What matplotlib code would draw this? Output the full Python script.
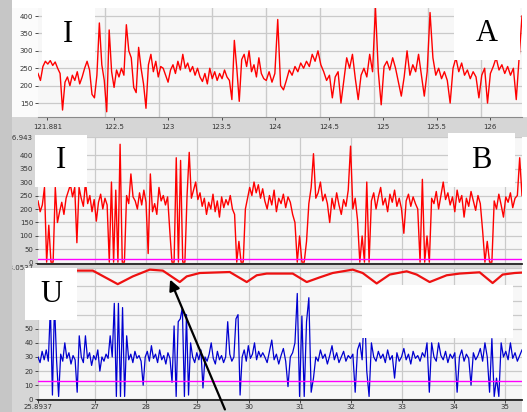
import matplotlib.pyplot as plt
import numpy as np
from matplotlib.patches import Rectangle, FancyArrowPatch

W, H = 527, 412

# panel A: current I, time 121.88 .. 126.38
a_vals_1 = [235, 215, 255, 270, 262, 272, 258, 268, 250, 235, 130,
            210, 225, 200, 230, 215, 240, 205, 225, 250, 270, 245, 175, 165,
            230, 380, 260, 215, 125, 360, 240, 195, 245, 225, 250, 230, 375,
            300, 280, 195, 180, 310, 250, 205, 135, 260, 290, 240, 270, 225,
            255, 250, 230, 210, 245, 260, 235, 270, 245, 290, 250, 265, 240,
            255, 230, 250, 225, 212, 235, 205, 250, 220, 240, 215, 235, 220,
            245, 225, 215, 160, 330, 250, 155, 275, 290, 255, 300, 240, 260,
            225, 280, 235, 220]
a_vals_2 = [215, 240, 210, 235, 390, 200, 188, 215, 245, 230, 255, 240,
            265, 250, 270, 255, 290, 270, 300, 260, 240, 215, 230, 165, 225,
            240, 150, 215, 280, 250, 290, 220, 160, 230, 250, 225, 290, 240,
            425, 240, 145, 255, 270, 245, 280, 250, 210, 170, 225, 300, 230,
            260, 240, 290, 230, 170, 240, 410, 280, 230, 250, 220, 240, 215,
            150, 250, 280, 240, 265, 230, 245, 220, 240, 225, 165, 230, 250,
            150, 235, 255, 280, 245, 260, 235, 255, 230, 250, 160, 280, 400]

# panel B: current I, time 25.89 .. 35.33
b_vals_1 = [230, 190, 215, 280, 3, 140, 3, 3, 280, 150, 190, 225, 180,
            240, 265, 290, 245, 280, 75, 280, 240, 210, 300, 220, 250, 190,
            235, 155, 225, 255, 200, 240, 215, 3, 300, 3, 270, 3, 440, 3, 3,
            250, 220, 330, 245, 230, 200, 260, 215, 270, 225, 35, 330, 190,
            220, 180, 280, 230, 250, 215, 245, 120, 3, 3, 390, 3, 380, 3, 3,
            250, 410, 240, 270, 300, 235, 260, 210, 240, 180, 225, 200, 255,
            190, 230, 170, 245, 205, 235, 215, 250, 200, 180, 3, 80, 3, 3,
            200, 240, 280, 250, 300, 260, 290, 240, 275]
b_vals_2 = [230, 200, 250, 215, 270, 190, 240, 220, 255, 205, 245, 225,
            180, 150, 3, 100, 3, 3, 80, 220, 280, 405, 240, 260, 300, 230,
            255, 220, 150, 240, 200, 260, 215, 180, 235, 210, 270, 433, 200,
            240, 160, 3, 100, 3, 300, 3, 230, 260, 200, 245, 280, 215, 240,
            190, 255, 225, 270, 210, 240, 200, 110, 230, 255, 210, 245, 220,
            200, 3, 310, 3, 100, 3, 240, 220, 265, 200, 250, 300, 235, 260,
            215, 245, 190, 270, 225, 250, 170, 240, 210, 265, 230, 195, 250,
            220, 120, 3, 80, 3, 3, 230, 200, 255, 215, 170, 245, 225, 260,
            205, 240, 250, 390, 250]
b_limit = 14

# panel U: voltage, time 25.89 .. 35.33
u_vals_1 = [30, 26, 34, 28, 35, 27, 65, 3, 68, 28, 2, 32, 27, 40, 29, 33,
            25, 31, 28, 5, 45, 30, 26, 45, 29, 33, 24, 31, 28, 35, 20, 30,
            27, 32, 29, 45, 30, 68, 2, 68, 2, 65, 2, 45, 28, 32, 26, 34, 29,
            31, 27, 10, 30, 34, 27, 38, 29, 32, 26, 35, 28, 31, 25, 33, 29,
            12, 52, 2, 55, 57, 65, 2, 60, 3, 40, 30, 26, 33, 28, 35, 8, 30,
            27, 32, 40, 29, 25, 34, 28, 31, 26, 30, 55, 32, 27, 30, 57, 60,
            3, 30, 35, 27, 38, 29, 32, 40, 28, 34, 30, 33]
u_vals_2 = [30, 26, 34, 42, 28, 32, 25, 31, 36, 27, 9, 30, 33, 40, 75, 2,
            59, 2, 55, 72, 5, 15, 30, 27, 35, 29, 32, 25, 31, 38, 28, 33, 26,
            30, 34, 27, 31, 29, 32, 5, 35, 40, 28, 66, 20, 2, 40, 30, 27, 34,
            29, 32, 26, 35, 28, 31, 15, 33, 27, 30, 36, 28, 32, 25, 34, 29,
            31, 27, 33, 30, 40, 5, 40, 30, 27, 40, 31, 28, 34, 26, 32, 29, 33,
            5, 30, 35, 27, 32, 29, 10, 33, 28, 31, 36, 27, 40, 30, 5, 43, 2,
            15, 2, 40, 30, 34, 28, 40, 29, 33, 27, 31, 35]
u_limit = 13
red_t = [25.89, 26.645, 26.962, 27.449, 27.742, 28.073, 28.327, 28.658,
         28.794, 29.048, 29.633, 29.964, 30.159, 30.354, 30.861, 31.134,
         31.387, 31.640, 32.030, 32.225, 32.498, 32.752, 33.083, 33.278,
         33.531, 33.863, 34.116, 34.506, 34.759, 34.954, 35.188, 35.33]
red_v = [91.2, 91.2, 91.2, 81.6, 87.1, 91.9, 91.2, 83.1, 87.1, 89.5, 90.2,
         83.1, 87.9, 89.1, 89.1, 83.1, 86.4, 89.5, 91.9, 89.5, 82.1, 88.4,
         90.7, 88.4, 83.1, 87.9, 89.1, 90.0, 82.4, 88.4, 89.5, 89.8]

a_ticks = [122.5, 123, 123.5, 124, 124.5, 125, 125.5, 126]
u_ticks = [27, 28, 29, 30, 31, 32, 33, 34, 35]

BG = '#d6d6d6'
PLOT_BG = '#f7f7f7'
GRID = '#cacaca'


def fbox(x0, y0, x1, y1):
    return [x0 / W, 1 - y1 / H, (x1 - x0) / W, (y1 - y0) / H]


def rect(fig, x0, y0, x1, y1, color, z):
    r = Rectangle((x0 / W, 1 - y1 / H), (x1 - x0) / W, (y1 - y0) / H,
                  transform=fig.transFigure, facecolor=color,
                  edgecolor='none', zorder=z)
    fig.add_artist(r)


def style(ax):
    ax.set_facecolor(PLOT_BG)
    for s in ax.spines.values():
        s.set_visible(False)
    ax.set_axisbelow(True)
    ax.tick_params(labelsize=5, length=2.5, width=0.6, colors='#333333',
                   pad=1)


fig = plt.figure(figsize=(W / 100, H / 100), dpi=100, facecolor=BG)
rect(fig, 0, 0, W, 8, 'white', -1)
rect(fig, 12, 8, 38, 117, '#fbfbfb', -1)
rect(fig, 522, 8, W, 117, 'white', -1)
rect(fig, 522, 137, W, H, 'white', -1)

# ---- A ----
axA = fig.add_axes(fbox(38, 8, 522, 117))
style(axA)
a_t1 = np.linspace(121.877, 124.0, len(a_vals_1), endpoint=False)
a_t2 = np.linspace(124.0, 126.379, len(a_vals_2))
axA.plot(np.r_[a_t1, a_t2], a_vals_1 + a_vals_2, color='#ff0000', lw=1.0)
axA.set_xlim(121.877, 126.379)
axA.set_ylim(110, 423)
axA.set_yticks(range(150, 401, 50))
axA.grid(axis='y', color=GRID, lw=0.9)
for g in a_ticks:
    axA.axvline(g, color=GRID, lw=1.0, zorder=0)
# axis labels sit a little right of the grid in the original
axA.set_xticks([v + 0.084 for v in [121.881] + a_ticks])
axA.set_xticklabels(['121.881'] + [f'{v:g}' for v in a_ticks])
axA.tick_params(axis='x', pad=2.5, length=2.5)
axA.spines['bottom'].set_visible(True)
axA.spines['bottom'].set_color('#8a8a8a')

# ---- B ----
axB = fig.add_axes(fbox(38, 137, 522, 263.5))
style(axB)
b_t1 = np.linspace(25.8937, 30.317, len(b_vals_1), endpoint=False)
b_t2 = np.linspace(30.317, 35.332, len(b_vals_2))
axB.plot(np.r_[b_t1, b_t2], b_vals_1 + b_vals_2, color='#ff0000', lw=1.0)
axB.axhline(b_limit, color='#ff00ff', lw=1.0)
axB.set_xlim(25.8937, 35.332)
axB.set_ylim(-2, 466.943)
axB.set_yticks(list(range(0, 401, 50)) + [466.943])
axB.set_yticklabels([str(v) for v in range(0, 401, 50)] + ['466.943'])
axB.set_xticks(u_ticks)
axB.tick_params(axis='x', length=0, labelbottom=False)
axB.grid(color=GRID, lw=0.9)
axB.spines['bottom'].set_visible(True)
axB.spines['bottom'].set_color('#222222')
axB.spines['bottom'].set_linewidth(1.3)

# ---- U ----
axU = fig.add_axes(fbox(38, 268, 522, 400))
style(axU)
u_t1 = np.linspace(25.8937, 30.317, len(u_vals_1), endpoint=False)
u_t2 = np.linspace(30.317, 35.332, len(u_vals_2))
axU.plot(np.r_[u_t1, u_t2], u_vals_1 + u_vals_2, color='#0000d0', lw=0.9)
axU.axhline(u_limit, color='#ff00ff', lw=1.0)
axU.plot(red_t, red_v, color='#ee1111', lw=1.6)
axU.set_xlim(25.8937, 35.332)
axU.set_ylim(-0.5, 93.05)
axU.set_yticks(list(range(0, 91, 10)) + [93.05])
axU.set_yticklabels([str(v) if v <= 50 else '' for v in range(0, 91, 10)]
                    + ['93.0537'])
axU.set_xticks([25.8937] + u_ticks)
axU.set_xticklabels(['25.8937'] + [str(v) for v in u_ticks])
axU.tick_params(axis='x', pad=0.8, length=2)
axU.grid(color=GRID, lw=0.9)
axU.spines['bottom'].set_visible(True)
axU.spines['bottom'].set_color('#222222')
axU.spines['bottom'].set_linewidth(1.3)

# label boxes
boxes = [(42, 8, 95, 60, 'I'), (454, 7, 520, 60, 'A'),
         (35, 135, 87, 187, 'I'), (448, 133, 515, 187, 'B'),
         (25, 268, 77, 320, 'U'), (362, 285, 513, 338, '')]
for x0, y0, x1, y1, s in boxes:
    rect(fig, x0, y0, x1, y1, 'white', 5)
    if s:
        fig.text((x0 + x1) / 2 / W, 1 - (y0 + y1) / 2 / H, s,
                 family='Liberation Serif', fontsize=22, ha='center',
                 va='center', zorder=6)

# left strip covering the label starts
rect(fig, 0, 0, 12, H, '#c6c6c6', 20)

arrow = FancyArrowPatch((226 / W, 1 - 412 / H), (169 / W, 1 - 277 / H),
                        transform=fig.transFigure, arrowstyle='-|>',
                        mutation_scale=16, lw=1.6, color='black', zorder=30)
fig.add_artist(arrow)

fig.savefig('out.png', dpi=100, facecolor=BG)
